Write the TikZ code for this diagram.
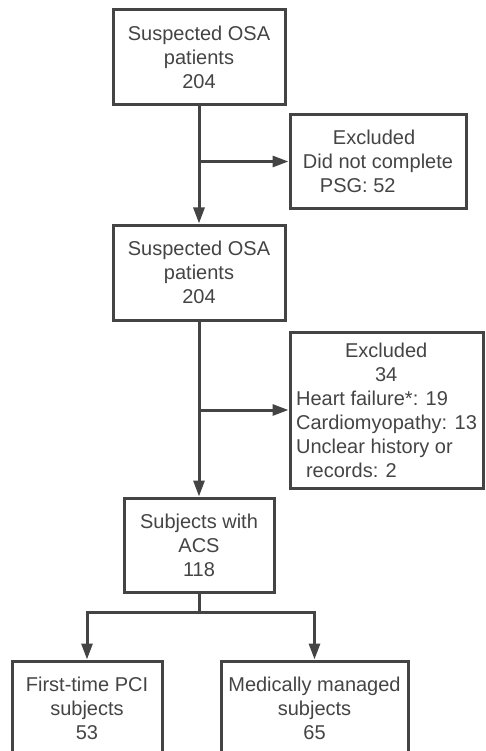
\documentclass[tikz,border=0pt]{standalone}
\usepackage{fontspec}
\setmainfont{Liberation Sans}
\usetikzlibrary{arrows.meta}
\definecolor{flowgray}{HTML}{444444}
\tikzset{
  stagebox/.style 2 args={draw=flowgray, line width=3pt, text=flowgray,
    minimum width=#1, minimum height=#2, inner sep=0pt, align=center,
    font=\fontsize{20}{24}\selectfont},
  flowarrow/.style={draw=flowgray, line width=3pt,
    -{Triangle[length=16pt,width=11pt]}},
  flowline/.style={draw=flowgray, line width=3pt}
}
\begin{document}
\begin{tikzpicture}[x=1pt,y=-1pt]
\clip (0,0) rectangle (486,751); % page size of the reference
% main column
\node[stagebox={172pt}{95pt}] (osa1) at (199,57) {Suspected OSA\\patients\\204};
\node[stagebox={172pt}{95pt}] (osa2) at (199,272.5) {Suspected OSA\\patients\\204};
\node[stagebox={150pt}{94pt}] (acs) at (199,545) {Subjects with\\ACS\\118};
% exclusions
\node[stagebox={176pt}{94pt}, align=left] (excl1) at (378,161.5)
  {\hspace*{30pt}Excluded\\Did not complete\\\hspace*{17pt}PSG: 52};
\node[stagebox={193pt}{156pt}, align=left] (excl2) at (386.5,410)
  {\hspace*{49pt}Excluded\\\hspace*{79pt}34\\Heart failure*: 19\\Cardiomyopathy: 13\\Unclear history or\\\hspace*{10pt}records: 2};
% groups
\node[stagebox={150pt}{95pt}] (pci) at (87,708.5) {First-time PCI\\subjects\\53};
\node[stagebox={187pt}{95pt}] (med) at (314.5,708.5) {Medically managed\\subjects\\65};
% connectors
\draw[flowarrow] (osa1) -- (osa2);
\coordinate (join1) at (osa1.south |- excl1.west);
\draw[flowarrow] (join1) -- (excl1.west);
\draw[flowarrow] (osa2) -- (acs);
\coordinate (join2) at (osa2.south |- excl2.west);
\draw[flowarrow] (join2) -- (excl2.west);
\coordinate (split) at ([yshift=-19pt]acs.south);
\draw[flowline] (acs.south) -- (split);
\draw[flowarrow] (split) -| (pci.north);
\draw[flowarrow] (split) -| (med.north);
\end{tikzpicture}
\end{document}
